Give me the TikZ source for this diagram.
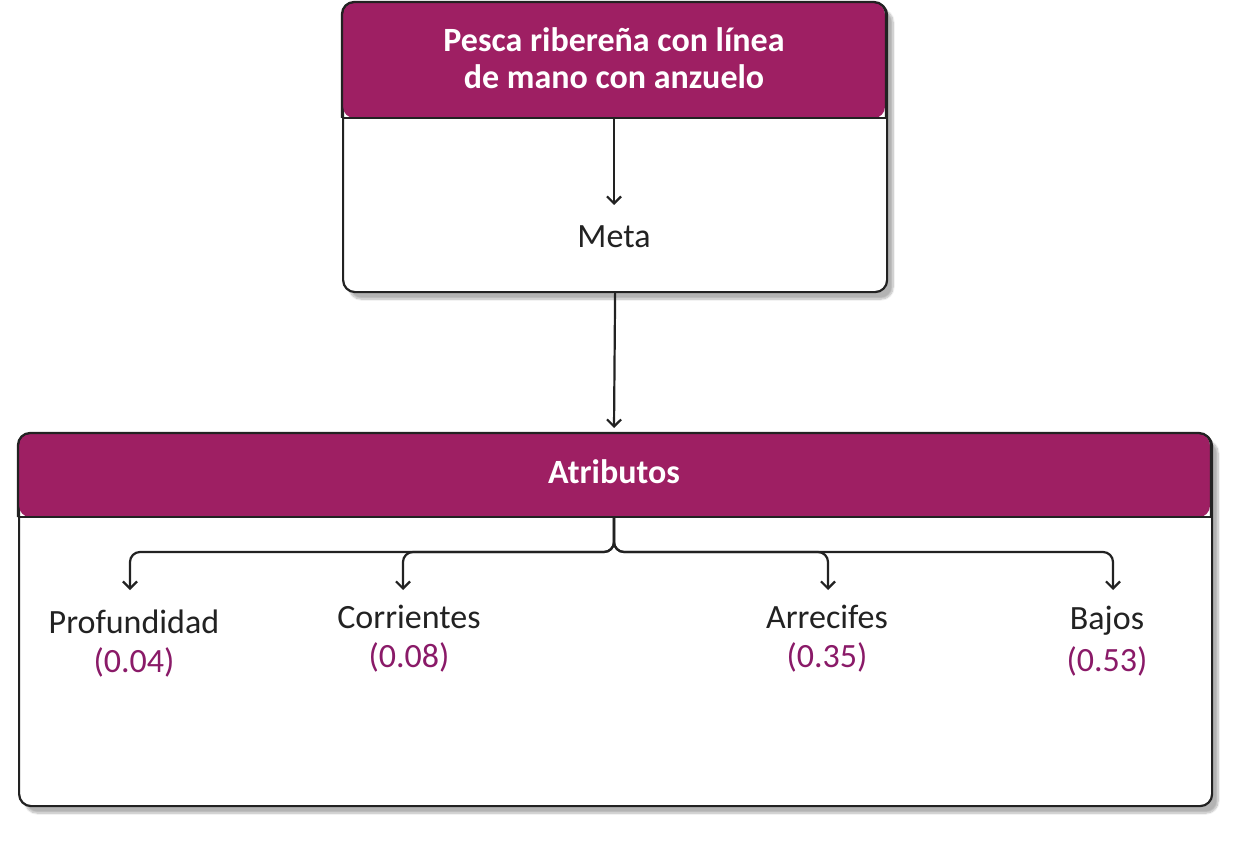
\documentclass[tikz,border=0pt]{standalone}
\usepackage{fontspec}
\setmainfont{Carlito}
\usetikzlibrary{shadows.blur,arrows.meta}
\definecolor{mag}{HTML}{9E1F63}
\definecolor{num}{HTML}{8A1A68}
\definecolor{ink}{HTML}{222222}
\begin{document}
\begin{tikzpicture}[x=1pt,y=-1pt,
  box/.style={draw=ink,line width=2.2pt,rounded corners=12pt,fill=white,
    blur shadow={shadow xshift=6pt,shadow yshift=-7pt,shadow opacity=30,shadow blur steps=8}},
  lbl/.style={font=\fontsize{34}{40}\selectfont,text=ink,inner sep=0},
  val/.style={font=\fontsize{34}{40}\selectfont,text=num,inner sep=0},
  hd/.style={font=\fontsize{34}{40}\selectfont\bfseries,text=white,align=center,inner sep=0},
  arr/.style={draw=ink,line width=2.2pt,-{Straight Barb[length=7pt,width=14pt]}},
  br/.style={draw=ink,line width=2.2pt,rounded corners=10pt,-{Straight Barb[length=7pt,width=14pt]}}]
\useasboundingbox (0,0) rectangle (1246,842);
% top box
\node[box,minimum width=544pt,minimum height=289pt,anchor=north west] (top) at (342,2) {};
\fill[mag,rounded corners=11pt] (343.1,118) -- (343.1,3.1) -- (884.9,3.1) -- (884.9,118) -- cycle;
\draw[ink,line width=2.2pt,rounded corners=12pt] (342,118) -- (342,2) -- (886,2) -- (886,118);
\draw[ink,line width=2pt] (342,118) -- (886,118);
\node[hd] (toph) at (614,58) {Pesca ribereña con línea\\[-3pt]de mano con anzuelo};
\coordinate (hb) at (614,118);
\node[lbl] (meta) at (614,237) {Meta};
\draw[arr] (hb) -- (614,205);
% bottom box
\node[box,minimum width=1193pt,minimum height=372pt,anchor=north west] (bot) at (18,433) {};
\draw[arr] (top.south) -- (614,428);
\fill[mag,rounded corners=11pt] (19.1,517) -- (19.1,434.1) -- (1209.9,434.1) -- (1209.9,517) -- cycle;
\draw[ink,line width=2.2pt,rounded corners=12pt] (18,517) -- (18,433) -- (1211,433) -- (1211,517);
\draw[ink,line width=2pt] (18,517) -- (1211,517);
\node[hd] (atr) at (614,472) {Atributos};
\coordinate (bh) at (614,517);
\coordinate (p) at (130,590);
\coordinate (c) at (403,590);
\coordinate (a) at (828,590);
\coordinate (b) at (1113,590);
\draw[br] (bh) |- (130,552) -- (p);
\draw[br] (bh) |- (403,552) -- (c);
\draw[br] (bh) |- (828,552) -- (a);
\draw[br] (bh) |- (1113,552) -- (b);
\node[lbl] (l1) at (134,622) {Profundidad};
\node[val] (v1) at (134,662) {(0.04)};
\node[lbl] (l2) at (409,617) {Corrientes};
\node[val] (v2) at (409,657) {(0.08)};
\node[lbl] (l3) at (827,617) {Arrecifes};
\node[val] (v3) at (827,657) {(0.35)};
\node[lbl] (l4) at (1107,621) {Bajos};
\node[val] (v4) at (1107,661) {(0.53)};
\end{tikzpicture}
\end{document}
